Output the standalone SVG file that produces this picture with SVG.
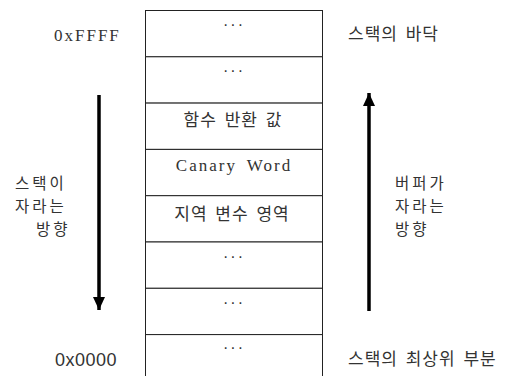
<svg xmlns="http://www.w3.org/2000/svg" width="515" height="376" viewBox="0 0 515 376">
<style>
.cell{fill:#fff;stroke:#222;stroke-width:1}
.t{font-family:"Noto Sans CJK KR","Liberation Sans",sans-serif;font-size:17px;letter-spacing:1px;word-spacing:3px;fill:#333}
.v{font-family:"Noto Sans CJK KR","Liberation Sans",sans-serif;font-size:15.5px;letter-spacing:3px;fill:#333}
.s{font-family:"Liberation Serif",serif;font-size:17px;letter-spacing:2px;fill:#333}
.a{font-family:"Liberation Sans",sans-serif;font-size:18px;letter-spacing:0.5px;fill:#333}
.d{font-family:"Liberation Sans",sans-serif;font-size:16px;letter-spacing:2px;fill:#333}
.c{text-anchor:middle}
.arr{stroke:#000;stroke-width:3.5;fill:none}
</style>
<defs>
<marker id="ah" markerWidth="13" markerHeight="12" refX="13" refY="6" orient="auto" markerUnits="userSpaceOnUse">
<path d="M0,0 L13,6 L0,12 Z" fill="#000"/>
</marker>
</defs>
<rect width="515" height="376" fill="#fff"/>
<g id="stack">
<g id="row1"><rect class="cell" x="145.5" y="10.5" width="177" height="46.3"/><text class="d c" x="234" y="30">···</text></g>
<g id="row2"><rect class="cell" x="145.5" y="56.8" width="177" height="46.3"/><text class="d c" x="234" y="76">···</text></g>
<g id="row3"><rect class="cell" x="145.5" y="103.1" width="177" height="46.3"/><text class="t c" x="233" y="125.5">함수 반환 값</text></g>
<g id="row4"><rect class="cell" x="145.5" y="149.4" width="177" height="46.3"/><text class="s c" x="234" y="171" word-spacing="4">Canary Word</text></g>
<g id="row5"><rect class="cell" x="145.5" y="195.7" width="177" height="46.3"/><text class="t c" x="232" y="219.5">지역 변수 영역</text></g>
<g id="row6"><rect class="cell" x="145.5" y="242" width="177" height="46.3"/><text class="d c" x="234" y="262">···</text></g>
<g id="row7"><rect class="cell" x="145.5" y="288.3" width="177" height="46.3"/><text class="d c" x="234" y="308">···</text></g>
<g id="row8"><rect class="cell" x="145.5" y="334.6" width="177" height="46.3"/><text class="d c" x="234" y="353">···</text></g>
</g>
<g id="labels">
<g id="addr-top"><text class="s" x="54" y="41">0xFFFF</text></g>
<g id="addr-bottom"><text class="a" x="55" y="366">0x0000</text></g>
<g id="bottom-label"><text class="t" x="348" y="40">스택의 바닥</text></g>
<g id="top-label"><text class="t" x="348" y="364.5">스택의 최상위 부분</text></g>
<g id="stack-dir"><text class="v" x="15" y="189">스택이</text><text class="v" x="15" y="212">자라는</text><text class="v" x="36" y="234.5">방향</text></g>
<g id="buf-dir"><text class="v" x="395" y="189">버퍼가</text><text class="v" x="395" y="212">자라는</text><text class="v" x="395" y="234.5">방향</text></g>
</g>
<g id="connectors">
<line class="arr" x1="99" y1="95" x2="99" y2="310" marker-end="url(#ah)"/>
<line class="arr" x1="369" y1="311" x2="369" y2="93" marker-end="url(#ah)"/>
</g>
</svg>
